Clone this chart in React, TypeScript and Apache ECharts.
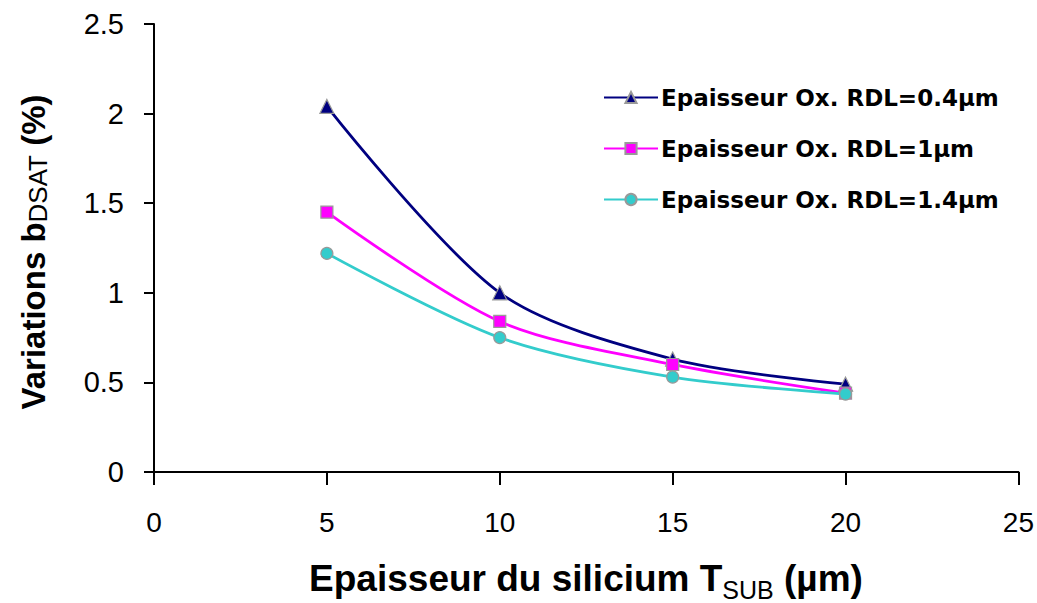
import React, { useEffect, useRef } from "react";
import * as echarts from "echarts";

const xValues = [5, 10, 15, 20];
const seriesNames = [
  "Epaisseur Ox. RDL=0.4µm",
  "Epaisseur Ox. RDL=1µm",
  "Epaisseur Ox. RDL=1.4µm",
];
const rdl04 = [2.04, 1.0, 0.63, 0.49];
const rdl1 = [1.45, 0.84, 0.6, 0.44];
const rdl14 = [1.22, 0.75, 0.53, 0.435];
const xTicks = { min: 0, max: 25, interval: 5 };
const yTicks = { min: 0, max: 2.5, interval: 0.5 };

const FONT = "Liberation Sans, Arial, sans-serif";
const NARROW = "Liberation Sans Narrow, Arial Narrow, Liberation Sans, sans-serif";
const LEGEND_FONT = "DejaVu Sans, Verdana, sans-serif";

export default function App() {
  const ref = useRef<HTMLDivElement>(null);
  useEffect(() => {
    if (!ref.current) return;
    const chart = echarts.init(ref.current, undefined, { renderer: "svg" });
    const mk = (vals: number[]) => xValues.map((x, i) => [x, vals[i]]);
    const baseSeries = (name: string, vals: number[], color: string, symbol: string, size: number) => ({
      type: "line",
      name,
      data: mk(vals),
      smooth: 0.3,
      symbol,
      symbolSize: size,
      lineStyle: { color, width: 2.8 },
      itemStyle: { color, borderColor: "#999999", borderWidth: 1.2 },
    });
    chart.setOption({
      animation: false,
      backgroundColor: "#ffffff",
      textStyle: { fontFamily: FONT },
      grid: { left: 154, right: 18, top: 24, bottom: 131, containLabel: false },
      xAxis: {
        type: "value",
        min: xTicks.min,
        max: xTicks.max,
        interval: xTicks.interval,
        splitLine: { show: false },
        axisLine: { lineStyle: { color: "#000", width: 2 } },
        axisTick: { show: true, inside: false, length: 13, lineStyle: { color: "#000", width: 2 } },
        axisLabel: { color: "#000", fontSize: 28, margin: 36, fontFamily: NARROW },
      },
      yAxis: {
        type: "value",
        min: yTicks.min,
        max: yTicks.max,
        interval: yTicks.interval,
        splitLine: { show: false },
        axisLine: { show: true, lineStyle: { color: "#000", width: 2 } },
        axisTick: { show: true, inside: false, length: 10, lineStyle: { color: "#000", width: 2 } },
        axisLabel: { color: "#000", fontSize: 29, margin: 30, fontFamily: FONT },
      },
      legend: {
        orient: "vertical",
        left: 603,
        top: 86,
        padding: 0,
        itemGap: 28,
        itemWidth: 54,
        itemHeight: 14,
        textStyle: { color: "#000", fontSize: 23, fontWeight: "bold", fontFamily: LEGEND_FONT, padding: [0, 0, 0, -2] },
        data: seriesNames,
      },
      graphic: [
        {
          type: "text",
          x: 33,
          y: 252,
          rotation: Math.PI / 2,
          style: {
            text: "{a|Variations b}{s|DSAT}{a| (%)}",
            align: "center",
            verticalAlign: "middle",
            fill: "#000",
            rich: {
              a: { fontSize: 33, fontWeight: "bold", fontFamily: FONT, fill: "#000", verticalAlign: "bottom" },
              s: { fontSize: 26, fontWeight: "normal", fontFamily: FONT, fill: "#000", verticalAlign: "bottom", padding: [0, 0, -1, 0] },
            },
          },
        },
        {
          type: "text",
          x: 586,
          y: 578,
          style: {
            text: "{a|Epaisseur du silicium T}{s|SUB}{a| (µm)}",
            align: "center",
            verticalAlign: "middle",
            fill: "#000",
            rich: {
              a: { fontSize: 37, fontWeight: "bold", fontFamily: FONT, fill: "#000", verticalAlign: "bottom" },
              s: { fontSize: 25, fontWeight: "normal", fontFamily: FONT, fill: "#000", verticalAlign: "bottom", padding: [0, 0, -6, 0] },
            },
          },
        },
      ],
      series: [
        baseSeries(seriesNames[0], rdl04, "#000080", "triangle", 14),
        baseSeries(seriesNames[1], rdl1, "#FF00FF", "rect", 12),
        baseSeries(seriesNames[2], rdl14, "#33CCCC", "circle", 12),
      ],
    });
    return () => chart.dispose();
  }, []);
  return <div ref={ref} style={{ width: 1037, height: 603, position: "absolute", left: 0, top: 0 }} />;
}
